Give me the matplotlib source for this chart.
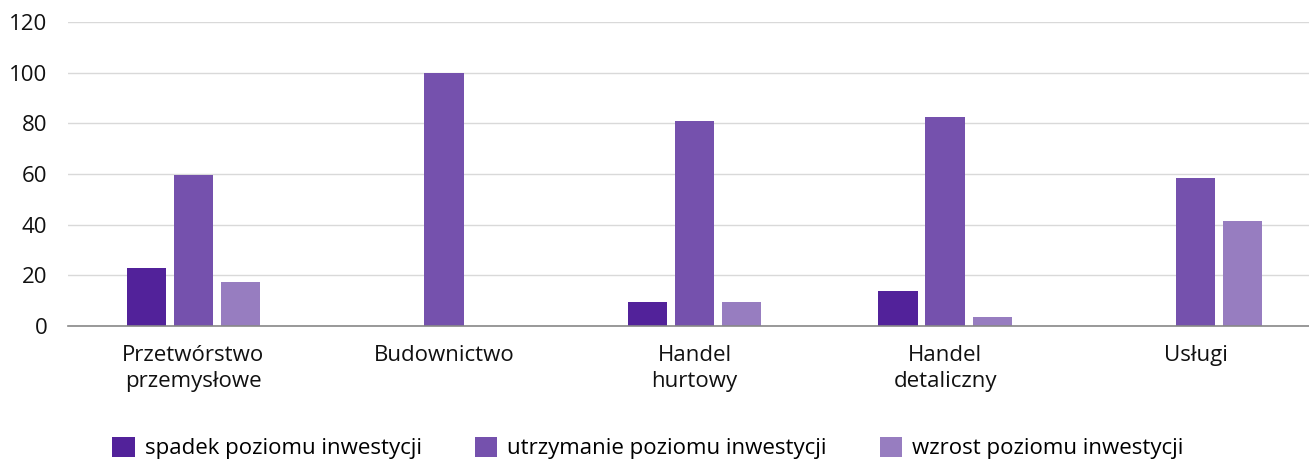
import numpy as np
import matplotlib
matplotlib.use("Agg")
import matplotlib.pyplot as plt

categories = ["Przetwórstwo\nprzemysłowe", "Budownictwo", "Handel\nhurtowy", "Handel\ndetaliczny", "Usługi"]
spadek = [23, 0, 9.5, 14, 0]
utrzymanie = [59.5, 100, 81, 82.5, 58.5]
wzrost = [17.5, 0, 9.5, 3.5, 41.5]
series_names = ["spadek poziomu inwestycji", "utrzymanie poziomu inwestycji", "wzrost poziomu inwestycji"]
colors = ["#52229a", "#7551ad", "#977dc0"]

plt.rcParams['font.family'] = ['Open Sans', 'DejaVu Sans']
fs = 16
fig = plt.figure(figsize=(13.09, 4.61), dpi=100)
ax = fig.add_axes([68/1309, 1-326/461, (1321-68)/1309, (326-22)/461])

x = np.arange(len(categories))
w = 0.157
step = 0.188
for i, (vals, name, c) in enumerate(zip([spadek, utrzymanie, wzrost], series_names, colors)):
    ax.bar(x + (i-1)*step, vals, width=w, color=c, label=name, zorder=3)

ax.set_xlim(-0.5, len(categories)-0.5)
ax.set_ylim(0, 120)
ax.set_yticks(range(0, 121, 20))
ax.grid(axis='y', color='#d9d9d9', linewidth=1, zorder=0)
for s in ['top', 'right', 'left']:
    ax.spines[s].set_visible(False)
ax.spines['bottom'].set_color('#888888')
ax.spines['bottom'].set_linewidth(1.2)
ax.spines['bottom'].set_zorder(4)
ax.set_xticks(x)
ax.set_xticklabels(categories, fontsize=fs, linespacing=1.3)
ax.tick_params(axis='both', length=0, labelsize=fs, colors='#111111')
ax.tick_params(axis='x', pad=14)
ax.tick_params(axis='y', pad=15)

fig.legend(loc='lower center', bbox_to_anchor=(0.495, -0.04), ncol=3, frameon=False,
           fontsize=fs, handlelength=1.0, handleheight=1.0, handletextpad=0.45, columnspacing=2.4)

fig.savefig("out.png", dpi=100)
